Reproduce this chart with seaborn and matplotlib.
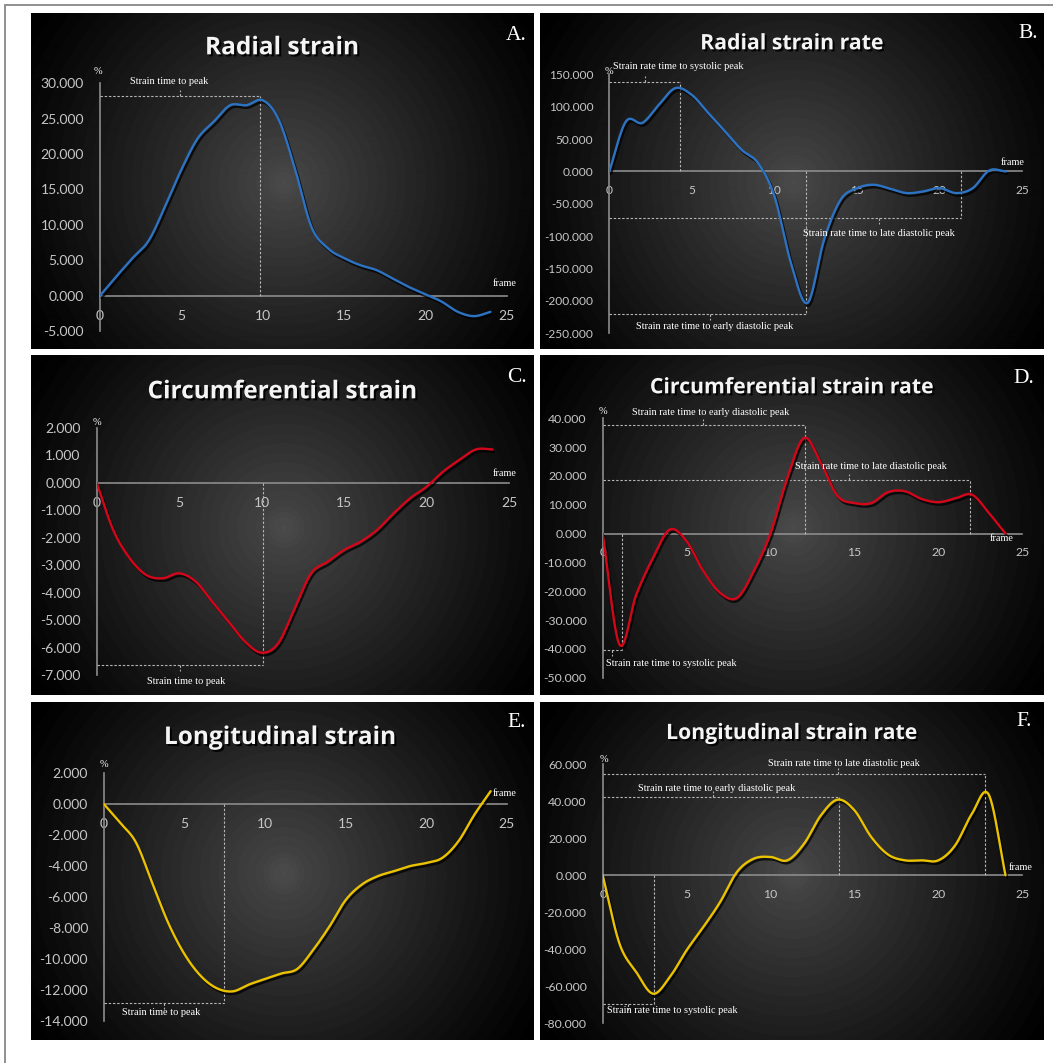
import numpy as np
import pandas as pd
import seaborn as sns
import matplotlib.pyplot as plt
import matplotlib.patheffects as pe
from matplotlib.lines import Line2D

# ---------------------------------------------------------------- data
frames = list(range(25))

radial_strain = [0.0, 2.7, 5.3, 7.8, 12.6, 17.8, 22.2, 24.6, 26.9, 26.9, 27.6,
                 24.8, 17.8, 9.7, 6.7, 5.3, 4.3, 3.6, 2.4, 1.2, 0.2, -0.85,
                 -2.3, -2.9, -2.3]
radial_strain_rate = [0.0, 77.0, 75.0, 103.0, 128.7, 118.0, 90.0, 62.0, 33.5,
                      13.0, -38.6, -141.6, -203.0, -105.6, -43.8, -25.8, -20.6,
                      -26.8, -33.5, -30.9, -25.8, -33.5, -25.8, 1.5, 0.0]
circ_strain = [0.0, -1.72, -2.75, -3.36, -3.48, -3.3, -3.6, -4.33, -5.06,
               -5.79, -6.19, -5.85, -4.58, -3.3, -2.88, -2.45, -2.15, -1.72,
               -1.12, -0.57, -0.15, 0.4, 0.83, 1.21, 1.21]
circ_strain_rate = [0.0, -38.5, -21.2, -8.4, 1.4, -2.7, -13.0, -20.6, -22.3,
                    -13.0, 0.2, 19.3, 33.2, 24.5, 13.0, 10.6, 10.6, 14.4, 14.7,
                    12.0, 10.9, 12.2, 13.5, 7.2, 0.0]
long_strain = [0.0, -1.2, -2.5, -5.1, -7.7, -9.7, -11.1, -11.9, -12.1, -11.66,
               -11.3, -10.95, -10.65, -9.4, -7.9, -6.2, -5.2, -4.65, -4.33,
               -4.0, -3.8, -3.47, -2.4, -0.67, 0.84]
long_strain_rate = [0.0, -36.9, -52.3, -64.0, -55.0, -40.5, -27.9, -14.4, 1.8,
                    9.0, 9.9, 8.1, 17.1, 32.4, 40.9, 35.1, 20.7, 11.2, 8.1, 8.1,
                    8.1, 16.2, 33.3, 43.6, 0.0]

titles = ["Radial strain", "Radial strain rate", "Circumferential strain",
          "Circumferential strain rate", "Longitudinal strain",
          "Longitudinal strain rate"]
letters = ["A.", "B.", "C.", "D.", "E.", "F."]
x_ticks = [0, 5, 10, 15, 20, 25]
y_ticks = [list(range(-5, 31, 5)), list(range(-250, 151, 50)),
           list(range(-7, 3, 1)), list(range(-50, 41, 10)),
           list(range(-14, 3, 2)), list(range(-80, 61, 20))]

# ---------------------------------------------------------------- style
W, H = 1053, 1063
sns.set_theme(style="white")
plt.rcParams["font.family"] = ["Lato", "DejaVu Sans"]
plt.rcParams["axes.unicode_minus"] = False

SERIF = "Liberation Serif"
TITLE_FONT = "Open Sans"
TICK_COLOR = "#c6c6c6"
AXIS_COLOR = "#8c8c8c"
GUIDE_COLOR = "#b4b4b4"
BLUE, RED, YELLOW = "#2d73c4", "#d3061a", "#eac200"

fig = plt.figure(figsize=(W / 100, H / 100), dpi=100, facecolor="white")


def fx(x):
    return x / W


def fy(y):
    return 1 - y / H


def catmull_rom(x, y, n=24):
    """Smooth curve through every point (the usual chart 'smoothed line')."""
    x = np.asarray(x, float)
    y = np.asarray(y, float)
    px = np.concatenate([[2 * x[0] - x[1]], x, [2 * x[-1] - x[-2]]])
    py = np.concatenate([[2 * y[0] - y[1]], y, [2 * y[-1] - y[-2]]])
    t = np.linspace(0, 1, n, endpoint=False)
    xs, ys = [], []
    for i in range(len(x) - 1):
        for arr, out in ((px, xs), (py, ys)):
            p0, p1, p2, p3 = arr[i:i + 4]
            out.append(0.5 * ((2 * p1) + (-p0 + p2) * t
                              + (2 * p0 - 5 * p1 + 4 * p2 - p3) * t ** 2
                              + (-p0 + 3 * p1 - 3 * p2 + p3) * t ** 3))
    xs.append([x[-1]])
    ys.append([y[-1]])
    return np.concatenate(xs), np.concatenate(ys)


def panel_background(l, t, r, b):
    ax = fig.add_axes([fx(l), fy(b), (r - l) / W, (b - t) / H])
    w, h = int(r - l), int(b - t)
    yy, xx = np.mgrid[0:h, 0:w]
    cx, cy = w / 2 + 1, h / 2 + 2
    dist = np.hypot(xx - cx, yy - cy)
    d = np.clip(dist / np.hypot(w / 2, h / 2), 0, 1)
    v = 0.285 * (1 - d) ** 1.15 + 0.012 * np.exp(-(dist / 17) ** 4)
    v = np.floor(v * 255 / 2.5) * 2.5 / 255
    ax.imshow(np.dstack([v, v, v]), aspect="auto", interpolation="bilinear",
              extent=(0, 1, 0, 1))
    ax.set_xlim(0, 1)
    ax.set_ylim(0, 1)
    ax.set_axis_off()
    return ax


panels = [
    dict(rect=(31, 13, 534, 349), box=(100, 506.7, 83.3, 331), series=radial_strain,
         color=BLUE, tick_size=10.0, title_size=17.6, title_xy=(282, 54.3),
         letter_xy=(506, 40), frame_xy=(24.9, 1.65), pct_xy=(-0.12, 31.7),
         notes=[("Strain time to peak", 28.2, 9.84, 4.92, 1, 4.24, 30.2)]),
    dict(rect=(540, 13, 1044, 349), box=(609.3, 1022.3, 74.3, 333.3),
         series=radial_strain_rate, color=BLUE, tick_size=8.6, title_size=15.3,
         title_xy=(792, 49.3), letter_xy=(1018, 38.3), frame_xy=(24.4, 13.4),
         pct_xy=(0.0, 154),
         notes=[("Strain rate time to systolic peak", 138.5, 4.28, 2.14, 1, 4.2, 162),
                ("Strain rate time to late diastolic peak", -72, 21.3, 16.3, -1, 16.3, -96),
                ("Strain rate time to early diastolic peak", -220, 11.88, 6.1, -1, 6.37, -240)]),
    dict(rect=(31, 355, 534, 695), box=(96.7, 509, 427.7, 675), series=circ_strain,
         color=RED, tick_size=10.0, title_size=17.6, title_xy=(282, 398.3),
         letter_xy=(507, 381.7), frame_xy=(24.76, 0.32), pct_xy=(0.0, 2.2),
         notes=[("Strain time to peak", -6.64, 10.1, 5.08, -1, 5.42, -7.22)]),
    dict(rect=(540, 355, 1044, 695), box=(602.7, 1022.3, 418.3, 677.7),
         series=circ_strain_rate, color=RED, tick_size=8.8, title_size=15.3,
         title_xy=(792, 393.3), letter_xy=(1013, 383.3), frame_xy=(23.75, -1.7),
         pct_xy=(0.0, 42.4),
         notes=[("Strain rate time to early diastolic peak", 37.6, 12.08, 6.0, 1, 6.43, 42),
                ("Strain rate time to late diastolic peak", 18.75, 21.88, 14.7, 1, 16.0, 23.3),
                ("Strain rate time to systolic peak", -40.3, 1.13, 0.54, -1, 4.07, -45)]),
    dict(rect=(31, 702, 534, 1040), box=(104, 506.7, 773.3, 1020.7),
         series=long_strain, color=YELLOW, tick_size=10.0, title_size=17.6,
         title_xy=(280, 744), letter_xy=(507, 726.7), frame_xy=(24.9, 0.69),
         pct_xy=(0.0, 2.57),
         notes=[("Strain time to peak", -12.85, 7.45, 3.73, -1, 3.54, -13.5)]),
    dict(rect=(540, 702, 1044, 1040), box=(602.7, 1022.3, 764.3, 1023.3),
         series=long_strain_rate, color=YELLOW, tick_size=8.8, title_size=15.3,
         title_xy=(792, 739), letter_xy=(1016, 726), frame_xy=(24.9, 4.3),
         pct_xy=(0.08, 62.7),
         notes=[("Strain rate time to late diastolic peak", 55, 22.8, 14.0, 1, 14.37, 60.5),
                ("Strain rate time to early diastolic peak", 42.3, 14.05, 6.55, 1, 6.8, 47),
                ("Strain rate time to systolic peak", -69.7, 3.07, 1.53, -1, 4.13, -73)]),
]

guide = dict(color=GUIDE_COLOR, lw=0.8, ls=(0, (2.2, 1.6)), zorder=2)

for i, p in enumerate(panels):
    panel_background(*p["rect"])
    x0, x25, ytop, ybot = p["box"]
    yt = y_ticks[i]
    ax = fig.add_axes([fx(x0), fy(ybot), (x25 - x0) / W, (ybot - ytop) / H])
    ax.patch.set_alpha(0)
    ax.set_xlim(0, 25)
    ax.set_ylim(yt[0], yt[-1])

    for side in ("top", "right"):
        ax.spines[side].set_visible(False)
    ax.spines["bottom"].set_position(("data", 0))
    for side in ("left", "bottom"):
        ax.spines[side].set_color(AXIS_COLOR)
        ax.spines[side].set_linewidth(1.2)
        ax.spines[side].set_zorder(1)
    ax.set_xticks(x_ticks)
    ax.set_xticklabels([str(v) for v in x_ticks])
    ax.set_yticks(yt)
    ax.set_yticklabels([f"{v:.3f}" for v in yt])
    ax.tick_params(axis="both", length=0, colors=TICK_COLOR,
                   labelsize=p["tick_size"])
    ax.tick_params(axis="y", pad=11.5)
    ax.tick_params(axis="x", pad=10)
    ax.grid(False)

    # smoothed strain curve with a soft drop shadow
    xs, ys = catmull_rom(frames, p["series"])
    df = pd.DataFrame({"frame": xs, "value": ys})
    sns.lineplot(data=df, x="frame", y="value", ax=ax, color=p["color"],
                 lw=1.7, estimator=None, sort=False, zorder=4)
    ax.lines[-1].set_path_effects([
        pe.SimpleLineShadow(offset=(1.2, -1.8), shadow_color="black", alpha=0.75),
        pe.Normal()])
    ax.set_xlabel("")
    ax.set_ylabel("")

    # time-to-peak brackets
    per_px = (yt[-1] - yt[0]) / (ybot - ytop)
    for label, level, peak, tick_x, direction, lx, ly in p["notes"]:
        ax.plot([0, peak], [level, level], **guide)
        ax.plot([peak, peak], [0, level], **guide)
        ax.plot([tick_x, tick_x], [level, level + direction * 6 * per_px], **guide)
        ax.text(lx, ly, label, ha="center", va="center", family=SERIF,
                size=7.4, color="white", zorder=5)

    ax.text(*p["frame_xy"], "frame", ha="center", va="center", family=SERIF,
            size=7.4, color="white", zorder=5)
    ax.text(*p["pct_xy"], "%", ha="center", va="center", family=SERIF,
            size=7.5, color="white", zorder=5)

    fig.text(fx(p["title_xy"][0]), fy(p["title_xy"][1]), titles[i],
             ha="center", va="baseline", family=TITLE_FONT, weight="bold",
             size=p["title_size"], color="#f4f4f4",
             path_effects=[pe.withSimplePatchShadow(offset=(1.5, -1.5),
                                                     shadow_rgbFace="black",
                                                     alpha=0.9)])
    fig.text(fx(p["letter_xy"][0]), fy(p["letter_xy"][1]), letters[i],
             ha="left", va="baseline", family=SERIF, size=15.5, color="white")

# thin frame along the top and left edges
fig.add_artist(Line2D([fx(5), 1], [fy(4.5), fy(4.5)], color="#8f8f8f", lw=1.4))
fig.add_artist(Line2D([fx(5), fx(5)], [0, fy(4.5)], color="#8f8f8f", lw=1.4))

fig.savefig("out.png", dpi=100, facecolor="white")
